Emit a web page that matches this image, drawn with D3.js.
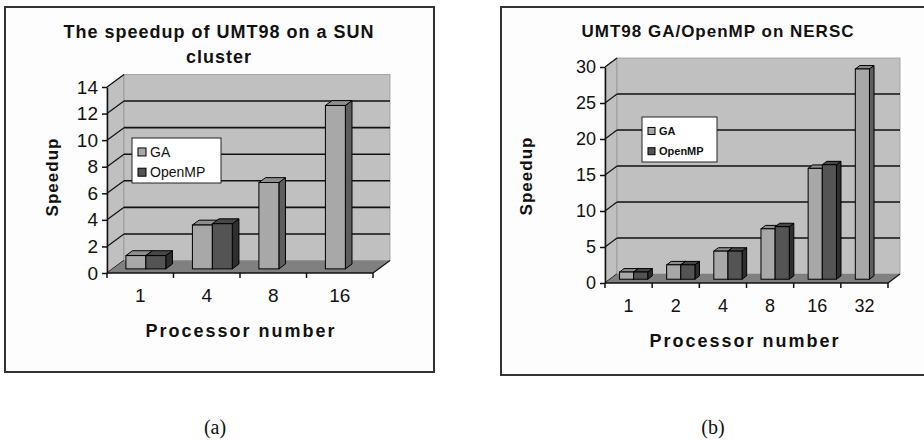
<!DOCTYPE html>
<html>
<head>
<meta charset="utf-8">
<script src="https://cdn.jsdelivr.net/npm/d3@7"></script>
<style>
  body { margin: 0; background: #fff; }
  svg text { font-family: "Liberation Sans", Arial, sans-serif; }
  svg text.caption { font-family: "Liberation Serif", "Times New Roman", serif; }
</style>
</head>
<body>
<svg id="fig" width="924" height="442"></svg>
<script>
// speedup charts, (a) SUN cluster and (b) NERSC

const seriesNames = ["GA", "OpenMP"];

// chart (a)
const catsA = ["1", "4", "8", "16"];
const gaA = [1.0, 3.3, 6.5, 12.3];
const ompA = [1.0, 3.4, null, null];
const ticksA = [0, 2, 4, 6, 8, 10, 12, 14];

// chart (b)
const catsB = ["1", "2", "4", "8", "16", "32"];
const gaB = [1.0, 2.0, 3.9, 7.0, 15.4, 29.2];
const ompB = [1.0, 2.0, 3.9, 7.3, 15.9, null];
const ticksB = [0, 5, 10, 15, 20, 25, 30];

const svg = d3.select("#fig");

const colors = {
  GA: { front: "#a8a8a8", top: "#8e8e8e", side: "#5e5e5e" },
  OpenMP: { front: "#545454", top: "#474747", side: "#2e2e2e" }
};

function drawChart(cfg) {
  const g = svg.append("g");

  // outer box
  g.append("rect")
    .attr("x", cfg.box[0]).attr("y", cfg.box[1])
    .attr("width", cfg.box[2]).attr("height", cfg.box[3])
    .attr("fill", "#fdfdfd").attr("stroke", "#333").attr("stroke-width", 2);

  const x = d3.scaleBand().domain(cfg.cats).range([cfg.x0, cfg.x1]);
  const xs = d3.scaleBand().domain(seriesNames).range([0, x.bandwidth()]).paddingOuter(0.667);
  const y = d3.scaleLinear().domain([0, cfg.ymax]).range([cfg.y0, cfg.y1]);
  const dx = cfg.dx, dy = cfg.dy;

  const poly = pts => pts.map(p => p.join(",")).join(" ");

  // side wall
  g.append("polygon")
    .attr("points", poly([[cfg.x0, y(0)], [cfg.x0, y(cfg.ymax)], [cfg.x0 + dx, y(cfg.ymax) - dy], [cfg.x0 + dx, y(0) - dy]]))
    .attr("fill", "#c0c0c0").attr("stroke", "#888").attr("stroke-width", 0.8);

  // back wall
  g.append("rect")
    .attr("x", cfg.x0 + dx).attr("y", y(cfg.ymax) - dy)
    .attr("width", cfg.x1 - cfg.x0).attr("height", y(0) - y(cfg.ymax))
    .attr("fill", "#c0c0c0").attr("stroke", "#999").attr("stroke-width", 0.8);

  // gridlines on back wall and side wall
  g.append("g").selectAll("line.grid")
    .data(cfg.ticks.filter(t => t > 0 && t < cfg.ymax))
    .join("line")
    .attr("x1", cfg.x0 + dx).attr("x2", cfg.x1 + dx)
    .attr("y1", d => y(d) - dy).attr("y2", d => y(d) - dy)
    .attr("stroke", "#111").attr("stroke-width", 1.6);

  g.append("g").selectAll("line")
    .data(cfg.ticks)
    .join("line")
    .attr("x1", cfg.x0).attr("x2", cfg.x0 + dx)
    .attr("y1", d => y(d)).attr("y2", d => y(d) - dy)
    .attr("stroke", "#111").attr("stroke-width", 1.2);

  // floor
  g.append("polygon")
    .attr("points", poly([[cfg.x0, y(0)], [cfg.x1, y(0)], [cfg.x1 + dx, y(0) - dy], [cfg.x0 + dx, y(0) - dy]]))
    .attr("fill", "#808080");

  // bars
  const f0 = cfg.f0, f1 = cfg.f1;
  const ox = f0 * dx, oy = f0 * dy;
  const bdx = (f1 - f0) * dx, bdy = (f1 - f0) * dy;
  const rows = [];
  cfg.cats.forEach((c, i) => {
    seriesNames.forEach((s, j) => {
      const v = cfg.series[j][i];
      if (v != null) rows.push({ cat: c, name: s, value: v });
    });
  });

  const bars = g.append("g").selectAll("g")
    .data(rows)
    .join("g");

  bars.each(function (d) {
    const b = d3.select(this);
    const xl = x(d.cat) + xs(d.name) + ox;
    const xr = xl + xs.bandwidth();
    const yt = y(d.value) - oy;
    const yb = y(0) - oy;
    const c = colors[d.name];
    b.append("polygon")
      .attr("points", poly([[xr, yt], [xr + bdx, yt - bdy], [xr + bdx, yb - bdy], [xr, yb]]))
      .attr("fill", c.side).attr("stroke", "#000").attr("stroke-width", 1);
    b.append("polygon")
      .attr("points", poly([[xl, yt], [xr, yt], [xr + bdx, yt - bdy], [xl + bdx, yt - bdy]]))
      .attr("fill", c.top).attr("stroke", "#000").attr("stroke-width", 1);
    b.append("rect")
      .attr("x", xl).attr("y", yt)
      .attr("width", xr - xl).attr("height", yb - yt)
      .attr("fill", c.front).attr("stroke", "#000").attr("stroke-width", 1);
  });

  // y axis
  const yAxis = g.append("g")
    .attr("transform", `translate(${cfg.x0},0)`)
    .call(d3.axisLeft(y).tickValues(cfg.ticks).tickSize(5).tickPadding(4).tickSizeOuter(0));
  yAxis.select(".domain").attr("stroke", "#111").attr("stroke-width", 1.5);
  yAxis.selectAll(".tick line").attr("stroke", "#111").attr("stroke-width", 1.5);
  yAxis.selectAll("text")
    .attr("font-size", cfg.tickFont).attr("fill", "#111")
    .attr("font-family", null);

  // x axis line with ticks on category edges
  g.append("line")
    .attr("x1", cfg.x0).attr("x2", cfg.x1)
    .attr("y1", y(0)).attr("y2", y(0))
    .attr("stroke", "#111").attr("stroke-width", 1.5);
  g.append("line")
    .attr("x1", cfg.x1).attr("x2", cfg.x1 + dx)
    .attr("y1", y(0)).attr("y2", y(0) - dy)
    .attr("stroke", "#111").attr("stroke-width", 1.2);
  const edges = cfg.cats.map(c => x(c)).concat([cfg.x1]);
  g.append("g").selectAll("line")
    .data(edges)
    .join("line")
    .attr("x1", d => d).attr("x2", d => d)
    .attr("y1", y(0)).attr("y2", y(0) + 5)
    .attr("stroke", "#111").attr("stroke-width", 1.5);
  g.append("g").selectAll("text")
    .data(cfg.cats)
    .join("text")
    .attr("x", d => x(d) + x.bandwidth() / 2)
    .attr("y", cfg.xLabelY)
    .attr("text-anchor", "middle")
    .attr("font-size", cfg.tickFont).attr("fill", "#111")
    .text(d => d);

  // title
  g.append("g").selectAll("text")
    .data(cfg.title)
    .join("text")
    .attr("x", cfg.titleX)
    .attr("y", (d, i) => cfg.titleY + i * 25)
    .attr("text-anchor", "middle")
    .attr("font-size", cfg.titleFont).attr("font-weight", "bold").attr("fill", "#111")
    .attr("letter-spacing", 1)
    .text(d => d);

  // axis titles
  g.append("text")
    .attr("transform", `translate(${cfg.yTitle[0]},${cfg.yTitle[1]}) rotate(-90)`)
    .attr("text-anchor", "middle")
    .attr("font-size", 17).attr("font-weight", "bold").attr("fill", "#111")
    .attr("letter-spacing", 1)
    .text("Speedup");
  g.append("text")
    .attr("x", cfg.xTitle[0]).attr("y", cfg.xTitle[1])
    .attr("text-anchor", "middle")
    .attr("font-size", 18).attr("font-weight", "bold").attr("fill", "#111")
    .attr("letter-spacing", 2)
    .text("Processor number");

  // legend
  const lg = g.append("g").attr("transform", `translate(${cfg.legend[0]},${cfg.legend[1]})`);
  lg.append("rect")
    .attr("width", cfg.legend[2]).attr("height", cfg.legend[3])
    .attr("fill", "#fff").attr("stroke", "#222").attr("stroke-width", 1);
  const item = lg.selectAll("g")
    .data(seriesNames)
    .join("g")
    .attr("transform", (d, i) => `translate(6,${cfg.legend[3] * (0.31 + i * 0.45)})`);
  item.append("rect")
    .attr("x", 0).attr("y", -cfg.sw / 2)
    .attr("width", cfg.sw).attr("height", cfg.sw)
    .attr("fill", d => colors[d].front).attr("stroke", "#000").attr("stroke-width", 1);
  item.append("text")
    .attr("x", cfg.sw + 4).attr("y", 0)
    .attr("dy", "0.35em")
    .attr("font-size", cfg.legendFont).attr("font-weight", cfg.legendWeight).attr("fill", "#111")
    .text(d => d);

  // caption
  svg.append("text")
    .attr("class", "caption")
    .attr("x", cfg.caption[0]).attr("y", cfg.caption[1])
    .attr("text-anchor", "middle")
    .attr("font-size", 20).attr("fill", "#111")
    .text(cfg.caption[2]);
}

drawChart({
  box: [5, 7, 429, 365],
  cats: catsA, series: [gaA, ompA], ticks: ticksA, ymax: 14,
  x0: 107, x1: 373, y0: 273, y1: 87, dx: 17, dy: 12.5, f0: 0.33, f1: 0.72,
  tickFont: 19, xLabelY: 302,
  title: ["The speedup of UMT98 on a SUN", "cluster"], titleX: 219, titleY: 38, titleFont: 18,
  yTitle: [58, 177], xTitle: [241, 337],
  legend: [132, 138, 89, 45], sw: 8, legendFont: 14, legendWeight: "normal",
  caption: [215, 434, "(a)"]
});

drawChart({
  box: [501, 7, 430, 368],
  cats: catsB, series: [gaB, ompB], ticks: ticksB, ymax: 30,
  x0: 605, x1: 888, y0: 283, y1: 67, dx: 12, dy: 9, f0: 0.42, f1: 0.8,
  tickFont: 18, xLabelY: 312,
  title: ["UMT98 GA/OpenMP on NERSC"], titleX: 718, titleY: 37, titleFont: 17,
  yTitle: [532, 176], xTitle: [745, 347],
  legend: [642, 117, 75, 45], sw: 7, legendFont: 11, legendWeight: "bold",
  caption: [713, 434, "(b)"]
});
</script>
</body>
</html>
